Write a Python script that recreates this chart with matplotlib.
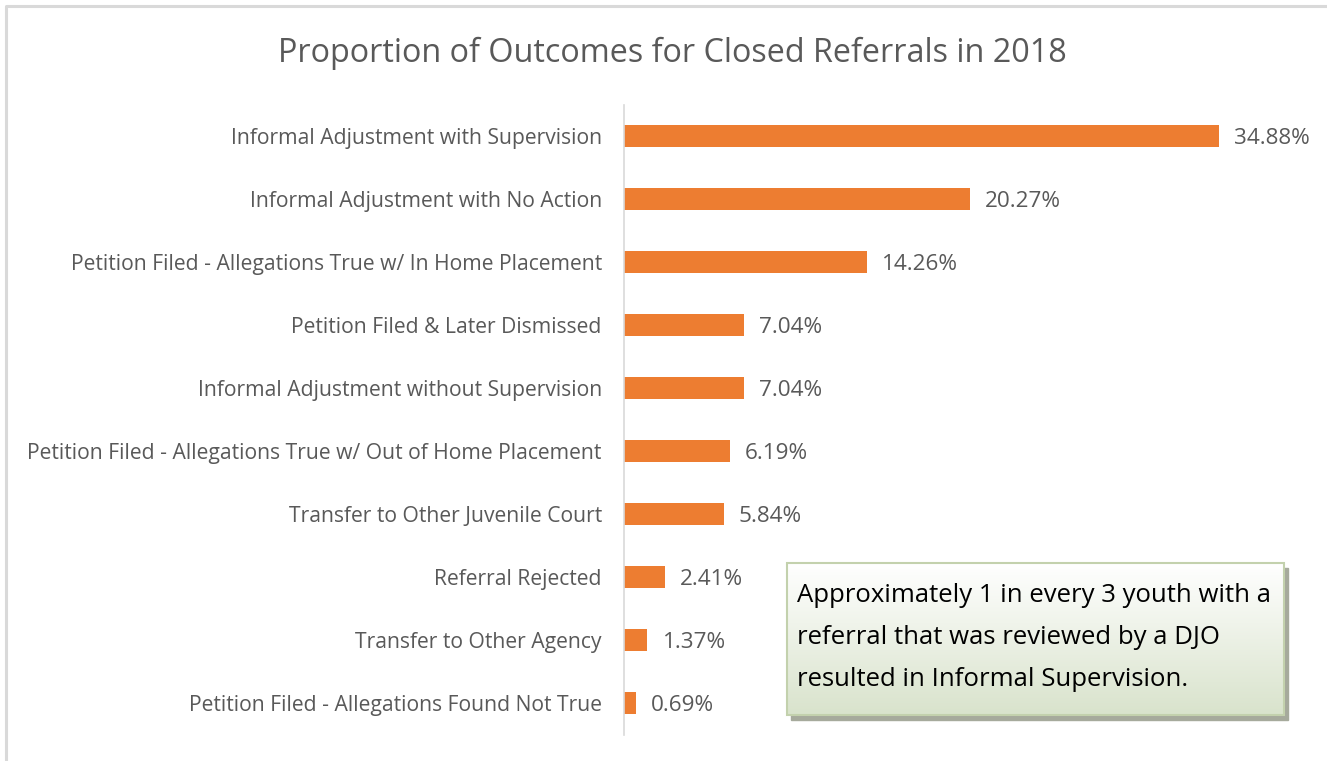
import numpy as np
import matplotlib
matplotlib.use('Agg')
from matplotlib import pyplot as plt
from matplotlib.patches import Rectangle

plt.rcParams['font.family'] = ['Open Sans', 'DejaVu Sans']

categories = [
    'Informal Adjustment with Supervision',
    'Informal Adjustment with No Action',
    'Petition Filed - Allegations True w/ In Home Placement',
    'Petition Filed & Later Dismissed',
    'Informal Adjustment without Supervision',
    'Petition Filed - Allegations True w/ Out of Home Placement',
    'Transfer to Other Juvenile Court',
    'Referral Rejected',
    'Transfer to Other Agency',
    'Petition Filed - Allegations Found Not True',
]
values = [34.88, 20.27, 14.26, 7.04, 7.04, 6.19, 5.84, 2.41, 1.37, 0.69]
title = 'Proportion of Outcomes for Closed Referrals in 2018'
note_lines = ['Approximately 1 in every 3 youth with a',
              'referral that was reviewed by a DJO',
              'resulted in Informal Supervision.']

W, H = 1327, 761
fig = plt.figure(figsize=(W / 100, H / 100), dpi=100)
fig.patch.set_facecolor('white')

# outer chart frame (only left/top visible)
frame = fig.add_axes([0, 0, 1, 1], zorder=-5)
frame.set_xlim(0, W)
frame.set_ylim(H, 0)
frame.axis('off')
frame.plot([6, 6, W + 5], [H + 5, 6, 6], color='#d9d9d9', lw=2.2)

grey = '#595959'
ax = fig.add_axes([624 / W, (H - 734.5) / H, 682 / W, 630 / H])
ax.patch.set_alpha(0)
y = np.arange(len(values))
ax.barh(y, values, height=0.35, color='#ED7D31')
ax.set_xlim(0, 40)
ax.set_ylim(len(values) - 0.5, -0.5)
ax.set_yticks(y)
ax.set_yticklabels(categories, fontsize=15.2, color=grey)
ax.tick_params(axis='y', length=0, pad=16)
ax.set_xticks([])
for s in ['top', 'right', 'bottom']:
    ax.spines[s].set_visible(False)
ax.spines['left'].set_color('#d9d9d9')
ax.spines['left'].set_linewidth(1.2)
for yi, v in zip(y, values):
    ax.annotate('%.2f%%' % v, (v, yi), xytext=(11, -1.5), textcoords='offset points',
                ha='left', va='center', fontsize=16.2, color=grey)

fig.text(672 / W, 1 - 53 / H, title, ha='center', va='center', fontsize=23.3, color=grey)

# note box with shadow and gradient, on top of everything
top = fig.add_axes([0, 0, 1, 1], zorder=10)
top.patch.set_alpha(0)
top.axis('off')
bx0, by0, bx1, by1 = 787, 563, 1284, 715
top.add_patch(Rectangle((bx0 + 4, by0 + 5), bx1 - bx0, by1 - by0, color='#a6aa9c', zorder=1))
grad = np.linspace(0, 1, 100)[:, None]
c_top = np.array([1.0, 1.0, 1.0])
c_bot = np.array([0.85, 0.89, 0.80])
img = c_top[None, None, :] * (1 - grad[..., None]) + c_bot[None, None, :] * grad[..., None]
top.imshow(img, extent=(bx0, bx1, by1, by0), aspect='auto', zorder=2)
top.add_patch(Rectangle((bx0, by0), bx1 - bx0, by1 - by0, fill=False,
                        edgecolor='#c3d1ad', lw=1.5, zorder=3))
top.set_xlim(0, W)
top.set_ylim(H, 0)
for i, line in enumerate(note_lines):
    top.text(797, 595 + 42 * i, line, ha='left', va='center', fontsize=18.5,
             color='black', zorder=4)

fig.savefig('out.png', dpi=100)
